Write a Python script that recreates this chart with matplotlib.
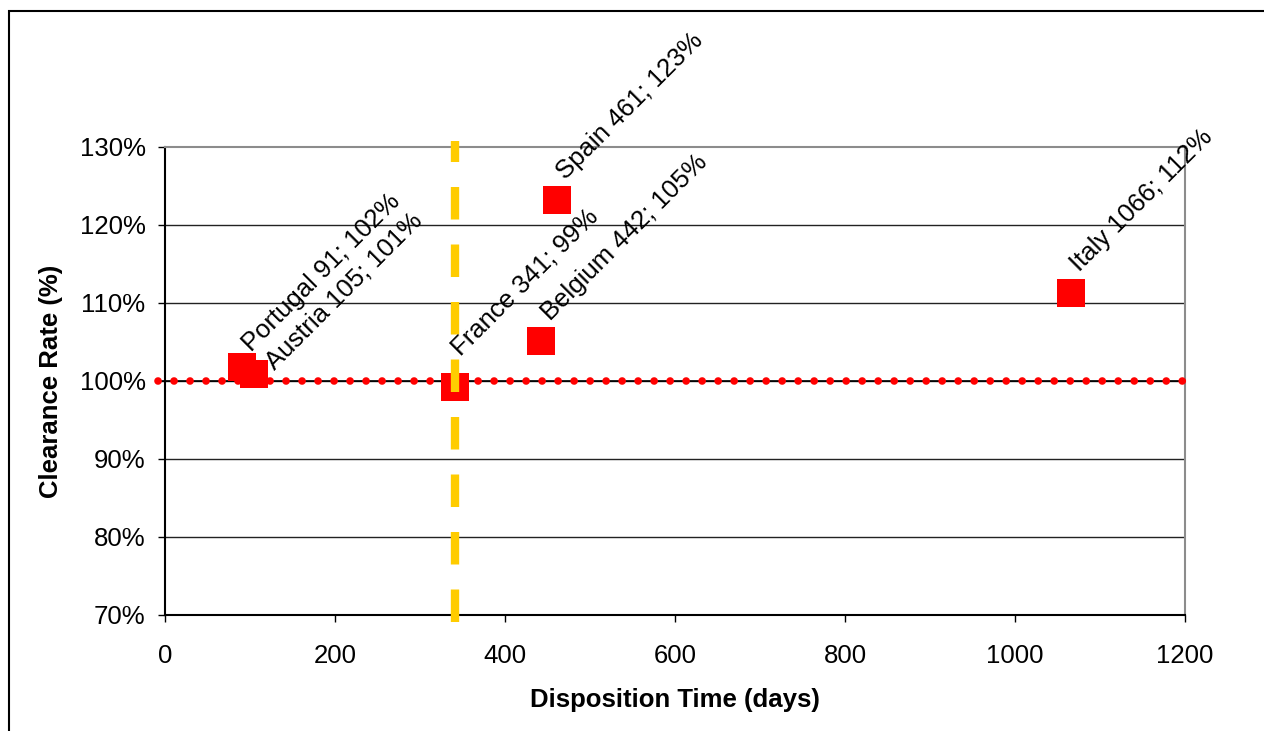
import matplotlib.pyplot as plt
from matplotlib.patches import Rectangle

plt.rcParams['font.family'] = ['Liberation Sans', 'DejaVu Sans']

# Data
countries = ['Portugal', 'Austria', 'France', 'Belgium', 'Spain', 'Italy']
disposition_days = [91, 105, 341, 442, 461, 1066]
clearance_rate = [101.8, 100.9, 99.2, 105.1, 123.2, 111.3]
label_rate = ['102%', '101%', '99%', '105%', '123%', '112%']

# 100% reference line and France median marker
ref_x = [-8, 1200]
ref_y = [100, 100]
median_days = 341
median_y = [69.1, 130.8]

x_ticks = [0, 200, 400, 600, 800, 1000, 1200]
y_ticks = [70, 80, 90, 100, 110, 120, 130]

# label offsets in pixels (x, y), from the marker centre
label_offsets = [(9, 14), (20, 3), (6, 31), (10, 20), (9, 20), (8, 20)]

FS = 18.5

fig = plt.figure(figsize=(12.64, 7.31), dpi=100)
ax = fig.add_axes([165 / 1264, 1 - 615 / 731, 1020 / 1264, 468 / 731])

# frame around the whole chart
fig.patches.append(Rectangle((9 / 1264, -0.05), 1.1, 1 - 11 / 731 + 0.05,
                             transform=fig.transFigure, fill=False,
                             edgecolor='black', lw=1.5, clip_on=False))

ax.set_xlim(0, 1200)
ax.set_ylim(70, 130)
ax.set_xticks(x_ticks)
ax.set_yticks(y_ticks)
ax.set_yticklabels([f'{v}%' for v in y_ticks])
ax.tick_params(axis='both', direction='out', length=5, width=1, labelsize=FS,
               colors='black')
ax.tick_params(axis='x', pad=16)
ax.tick_params(axis='y', pad=9)

for v in y_ticks[1:-1]:
    ax.axhline(v, color='#222222', lw=1, zorder=1)

ax.spines['left'].set_color('black')
ax.spines['bottom'].set_color('black')
ax.spines['top'].set_color('#8c8c8c')
ax.spines['right'].set_color('#8c8c8c')
for s in ax.spines.values():
    s.set_linewidth(1.5)

# 100% line: thin black line with red dots
ax.plot(ref_x, ref_y, color='black', lw=1.2, zorder=3, clip_on=False)
ax.plot(ref_x, ref_y, color='red', lw=5.5, linestyle=(0, (0.01, 2.085)),
        dash_capstyle='round', zorder=3, clip_on=False)

# countries
ax.plot(disposition_days, clearance_rate, linestyle='none', marker='s',
        markersize=20, color='red', markeredgewidth=0, zorder=4)

# dashed median line
ax.plot([median_days, median_days], median_y, color='#FFCC00', lw=6,
        linestyle=(0, (3.9, 3.0)), dash_capstyle='butt', zorder=5, clip_on=False)

for name, d, r, lab, off in zip(countries, disposition_days, clearance_rate,
                                label_rate, label_offsets):
    ax.annotate(f'{name} {d}; {lab}', (d, r), xytext=off,
                textcoords='offset pixels', rotation=45,
                rotation_mode='anchor', ha='left', va='baseline',
                fontsize=FS, color='black', zorder=6, annotation_clip=False)

ax.set_xlabel('Disposition Time (days)', fontsize=FS, fontweight='bold',
              labelpad=14)
ax.set_ylabel('Clearance Rate (%)', fontsize=FS, fontweight='bold',
              labelpad=12)

fig.savefig('out.png', dpi=100)
